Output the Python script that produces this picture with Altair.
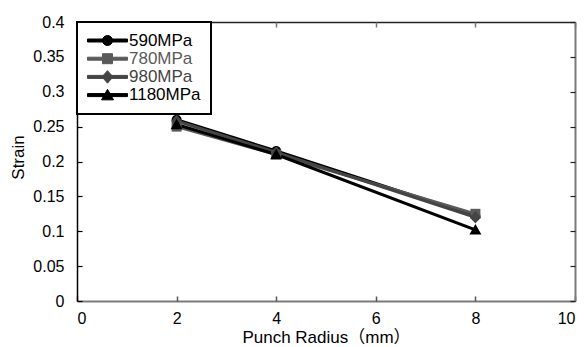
import altair as alt
import pandas as pd

radius = [2, 4, 8]
series = ["590MPa", "780MPa", "980MPa", "1180MPa"]
s590 = [0.260, 0.215, 0.122]
s780 = [0.250, 0.210, 0.125]
s980 = [0.258, 0.213, 0.120]
s1180 = [0.253, 0.210, 0.102]
x_ticks = [0, 2, 4, 6, 8, 10]
y_ticks = [0, 0.05, 0.1, 0.15, 0.2, 0.25, 0.3, 0.35, 0.4]

colors = ["#000000", "#5a5a5a", "#444444", "#000000"]
markers = [
    "M1,0A1,1 0 1,1 -1,0A1,1 0 1,1 1,0Z",
    "M-1,-1H1V1H-1Z",
    "M0,-1.25L1.1,0L0,1.25L-1.1,0Z",
    "M0,-1.15L1.2,0.95H-1.2Z",
]
legend_syms = [
    "M3.4,0A1,1 0 1,1 1.4,0A1,1 0 1,1 3.4,0Z M-1.6,-0.3H6.4V0.3H-1.6Z",
    "M1.4,-1H3.4V1H1.4Z M-1.6,-0.3H6.4V0.3H-1.6Z",
    "M2.4,-1.25L3.5,0L2.4,1.25L1.3,0Z M-1.6,-0.3H6.4V0.3H-1.6Z",
    "M2.4,-1.15L3.6,0.95H1.2Z M-1.6,-0.3H6.4V0.3H-1.6Z",
]

rows = []
for i, (name, vals) in enumerate(zip(series, [s590, s780, s980, s1180])):
    for r, v in zip(radius, vals):
        rows.append({"radius": r, "strain": v, "grade": name, "order": i})
df = pd.DataFrame(rows)

FONT = "Liberation Sans, Noto Sans CJK JP"
TK = 5
TICKFS = 16
TITLEFS = 17

xscale = alt.Scale(domain=[0, 10], nice=False, zero=False)
yscale = alt.Scale(domain=[0, 0.4], nice=False, zero=False)

x_bottom = alt.Axis(
    values=x_ticks, title="Punch Radius（mm）", grid=False, orient="bottom",
    domain=False, offset=-TK, tickColor="#555555", tickWidth=1.5,
    tickSize=TK, labelPadding=4 + TK, labelFontSize=TICKFS, labelColor="#000000",
    titleFontSize=TITLEFS, titleFontWeight="normal", titleColor="#000000", titlePadding=3,
    labelFont=FONT, titleFont=FONT,
)
y_left = alt.Axis(
    values=y_ticks, format="~g", title="Strain", grid=False, orient="left",
    domain=False, offset=-TK, tickColor="#000000", tickWidth=1.2,
    tickSize=TK, labelPadding=8 + TK, labelFontSize=TICKFS, labelColor="#000000",
    titleFontSize=TITLEFS, titleFontWeight="normal", titleColor="#000000", titlePadding=5,
    titleY=135, labelFont=FONT, titleFont=FONT,
)
x_top_ticks = alt.Axis(values=x_ticks, title=None, labels=False, grid=False, orient="top",
                       domain=False, offset=-TK, tickColor="#777777", tickWidth=1.5, tickSize=TK)
y_right_ticks = alt.Axis(values=y_ticks, title=None, labels=False, grid=False, orient="right",
                         domain=False, offset=-TK, tickColor="#222222", tickWidth=1.2, tickSize=TK)
x_bottom_dom = alt.Axis(values=x_ticks, title=None, labels=False, ticks=False, grid=False,
                        orient="bottom", domainColor="#7a7a7a", domainWidth=2)
y_left_dom = alt.Axis(values=y_ticks, title=None, labels=False, ticks=False, grid=False,
                      orient="left", domainColor="#000000", domainWidth=1.5)
x_top_dom = alt.Axis(values=x_ticks, title=None, labels=False, ticks=False, grid=False,
                     orient="top", domainColor="#222222", domainWidth=1.5)
y_right_dom = alt.Axis(values=y_ticks, title=None, labels=False, ticks=False, grid=False,
                       orient="right", domainColor="#7a7a7a", domainWidth=2)

col_expr = "scale('color', datum.value)"
legend = alt.Legend(
    title=None, orient="top-left", offset=0, padding=10,
    fillColor="#ffffff", strokeColor="#000000",
    symbolOffset=0, labelOffset=25,
    labelFontSize=17, labelFont=FONT, rowPadding=0.2,
    symbolFillColor=alt.ExprRef(col_expr),
    symbolStrokeColor=alt.ExprRef(col_expr),
    symbolStrokeWidth=1, symbolOpacity=1,
    labelColor=alt.ExprRef(col_expr),
)
cscale = alt.Scale(domain=series, range=colors)
COLOR = alt.Color("grade:N", sort=series, scale=cscale, legend=legend)

X = alt.X("radius:Q", scale=xscale, axis=x_bottom)
Y = alt.Y("strain:Q", scale=yscale, axis=y_left)

lines = alt.Chart(df).mark_line(strokeWidth=3).encode(
    x=X, y=Y, color=COLOR, detail="grade:N", order=alt.Order("order:Q"),
)

point_layers = [
    alt.Chart(df).transform_filter(alt.datum.grade == name)
    .mark_point(filled=True, size=100, opacity=1, strokeWidth=1, shape=path)
    .encode(x=X, y=Y, color=COLOR)
    for name, path in zip(series, markers)
]

legend_layer = alt.Chart(df).transform_filter("false").mark_point(
    filled=True, size=100, opacity=1, strokeWidth=1
).encode(
    x=X, y=Y, color=COLOR,
    shape=alt.Shape("grade:N", sort=series,
                    scale=alt.Scale(domain=series, range=legend_syms), legend=legend),
)

main = alt.layer(lines, *point_layers, legend_layer)


def frame(ax, ay):
    return alt.Chart(df).mark_point(opacity=0).encode(
        x=alt.X("radius:Q", scale=xscale, axis=ax),
        y=alt.Y("strain:Q", scale=yscale, axis=ay),
    )


chart = alt.layer(
    frame(x_bottom_dom, y_left_dom),
    frame(x_top_dom, y_right_dom),
    frame(x_top_ticks, y_right_ticks),
    main,
).resolve_scale(x="independent", y="independent").properties(
    width=498, height=279,
    autosize=alt.AutoSizeParams(type="none"),
    padding={"left": 77, "top": 22, "right": 12, "bottom": 46},
    background="#ffffff",
).configure_view(stroke=None).configure_legend(strokeWidth=2)

chart.save("out.html", embed_options={"renderer": "svg", "actions": False})
